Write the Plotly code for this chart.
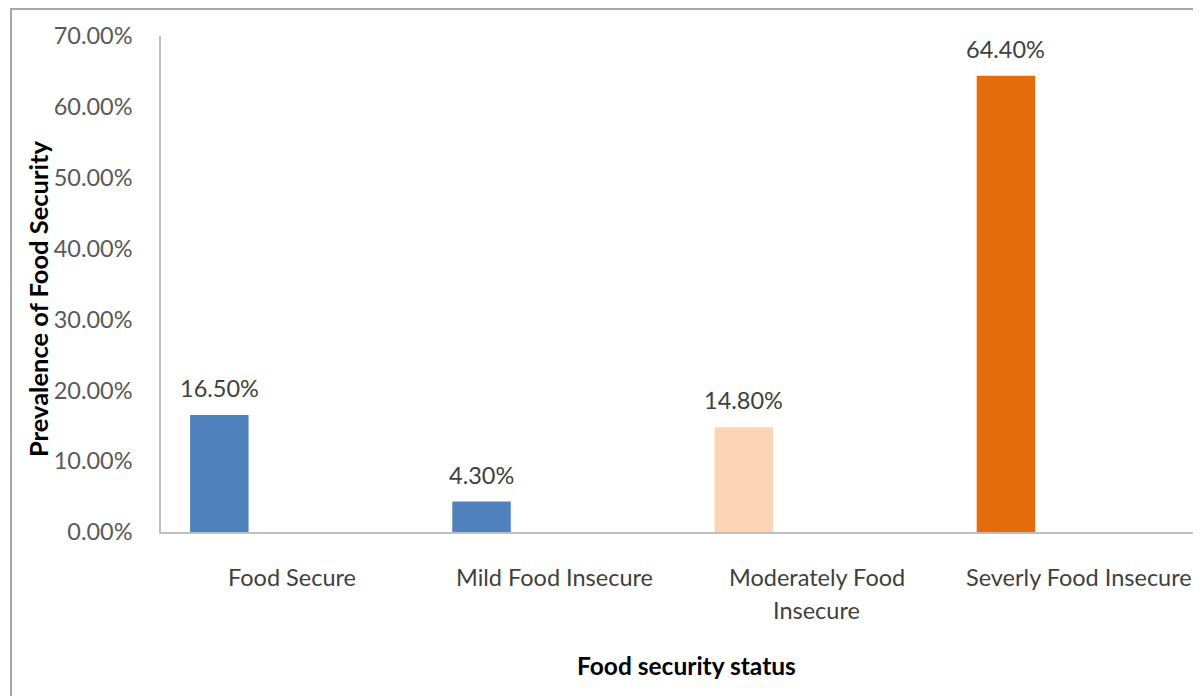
import plotly.graph_objects as go

categories = ["Food Secure", "Mild Food Insecure", "Moderately Food<br>Insecure", "Severly Food Insecure"]
values = [16.5, 4.3, 14.8, 64.4]
bar_colors = ["#4F81BD", "#4F81BD", "#FBD4B4", "#E46C0A"]
y_ticks = [0, 10, 20, 30, 40, 50, 60, 70]
y_ticktext = [f"{v:.2f}%" for v in y_ticks]

W, H = 1201, 696
OFF = 8  # page body margin
# target positions in page pixels
AX_LEFT, AX_BOTTOM, AX_TOP = 161, 532, 36
L = AX_LEFT - OFF
T = AX_TOP - OFF
B = H - (AX_BOTTOM - OFF)
R = 0
FONT = "Lato"
FS = 23.5

x_idx = list(range(len(categories)))

fig = go.Figure()
fig.add_trace(go.Bar(
    x=x_idx, y=values,
    marker=dict(color=bar_colors, line=dict(width=0)),
    width=0.223, offset=-0.389,
    hoverinfo="skip",
))

cat_px = 262.2
plot_w = W - L - R
x_max = -0.5 + plot_w / cat_px

annotations = []
for i, v in enumerate(values):
    annotations.append(dict(
        x=i, y=v, xref="x", yref="y", text=f"{v:.2f}%", showarrow=False,
        xshift=-73, yshift=27, yanchor="middle", xanchor="center",
        font=dict(family=FONT, size=FS, color="#404040"),
    ))
for i, c in enumerate(categories):
    for j, line in enumerate(c.split("<br>")):
        annotations.append(dict(
            x=i, y=0, xref="x", yref="y", text=line, showarrow=False,
            yshift=-45 - 33 * j, yanchor="middle", xanchor="center",
            font=dict(family=FONT, size=FS, color="#404040"),
        ))

plot_h = H - T - B
def px_x(p):
    return (p - OFF - L) / plot_w
def px_y(p):
    return (H - B - (p - OFF)) / plot_h

annotations.append(dict(
    x=px_x(686), y=px_y(666), xref="paper", yref="paper",
    xanchor="center", yanchor="middle",
    text="<b>Food security status</b>", showarrow=False,
    font=dict(family=FONT, size=24.5, color="#000000"),
))
annotations.append(dict(
    x=px_x(38), y=px_y(299), xref="paper", yref="paper",
    xanchor="center", yanchor="middle",
    text="<b>Prevalence of Food Security</b>", showarrow=False, textangle=-90,
    font=dict(family=FONT, size=25.5, color="#000000"),
))

shapes = [
    dict(type="line", xref="paper", yref="paper", x0=px_x(11), x1=px_x(11), y0=px_y(9), y1=px_y(720),
         line=dict(color="#A6A6A6", width=2)),
    dict(type="line", xref="paper", yref="paper", x0=px_x(10), x1=px_x(1230), y0=px_y(9), y1=px_y(9),
         line=dict(color="#A6A6A6", width=2)),
]

fig.update_layout(
    width=W, height=H,
    margin=dict(l=L, r=R, t=T, b=B, pad=0),
    paper_bgcolor="white", plot_bgcolor="white",
    showlegend=False,
    annotations=annotations,
    shapes=shapes,
    xaxis=dict(range=[-0.5, x_max], showticklabels=False, ticks="", showgrid=False,
               zeroline=False, showline=True, linecolor="#BFBFBF", linewidth=2, fixedrange=True),
    yaxis=dict(range=[0, 70], tickvals=y_ticks, ticktext=y_ticktext, ticks="",
               showgrid=False, zeroline=False, showline=True, linecolor="#BFBFBF", linewidth=1.5,
               ticklabelstandoff=22,
               tickfont=dict(family=FONT, size=FS, color="#595959"), fixedrange=True),
)

fig.write_html("out.html")
